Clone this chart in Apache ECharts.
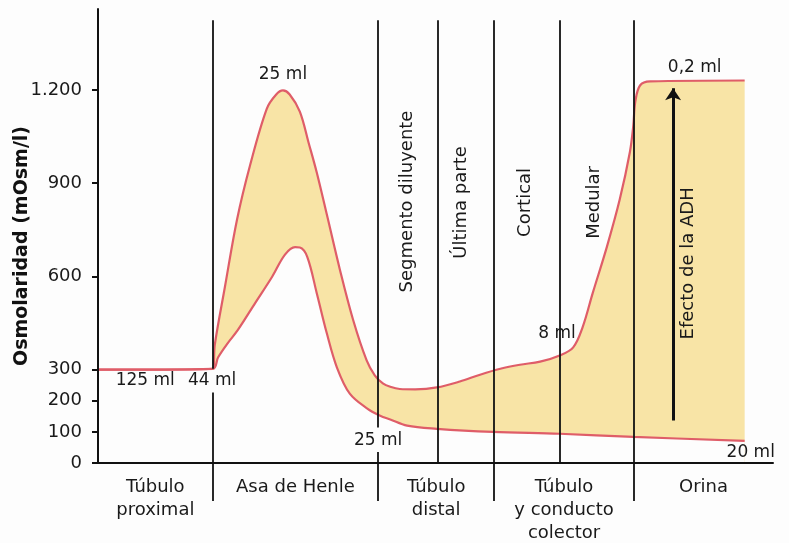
<!DOCTYPE html>
<html><head><meta charset="utf-8">
<script src="https://cdn.jsdelivr.net/npm/echarts@6/dist/echarts.min.js"></script>
<style>html,body{margin:0;padding:0;background:#fdfdfd}#c{width:789px;height:543px}</style>
</head><body><div id="c"></div><script>
// Y ticks (mOsm/l)
const yTicks = [0, 100, 200, 300, 600, 900, 1200];
// Nephron regions along the x position scale (0..100)
const regionNames = ['Túbulo\nproximal', 'Asa de Henle', 'Túbulo\ndistal', 'Túbulo\ny conducto\ncolector', 'Orina'];
const regionBounds = [0, 17, 41.5, 58.7, 79.4, 100];
const subBounds = [50.4, 68.4];
// Osmolarity curves [position, mOsm/l]
const upperCurve = [[0,300],[17,303],[17.3,380],[18.8,566],[20.6,783],[22.5,955],[25,1139],[26.4,1185],[27.4,1198],[28.4,1185],[29.9,1130],[31.2,1030],[32.4,935],[34,790],[35.8,625],[37.8,460],[39.8,330],[41,282],[42.2,256],[43.3,245],[44.7,238],[47,237],[50.2,243],[53.6,262],[56.6,284],[59.6,303],[62.5,316],[65.5,326],[68.4,346],[70.4,372],[71.8,437],[73.3,547],[75.4,696],[77.3,848],[78.8,1000],[79.3,1084],[79.6,1162],[80.3,1214],[81.8,1227],[95.8,1230]];
const lowerCurve = [[0,300],[17,303],[17.8,340],[19.2,385],[20.7,427],[23.3,515],[25.8,599],[27.7,670],[29.2,694],[29.9,693],[31,663],[32.4,547],[33.9,417],[35.4,307],[37.3,223],[39.9,175],[41.8,152],[43.3,140],[45.8,120],[50.2,110],[58.5,100],[68.4,94],[79.3,84],[95.8,71]];
// Volume annotations
const volumeLabels = [
  {name:'125 ml', x:7, y:266},
  {name:'44 ml', x:16.9, y:266},
  {name:'25 ml', x:27.4, y:1250},
  {name:'25 ml', x:41.5, y:73},
  {name:'8 ml', x:68.0, y:417},
  {name:'0,2 ml', x:88.4, y:1272},
  {name:'20 ml', x:96.7, y:34}
];
// Vertical segment annotations
const segmentLabels = [
  {name:'Segmento diluyente', x:45.8, y:841},
  {name:'Última parte', x:53.9, y:838},
  {name:'Cortical', x:63.3, y:838},
  {name:'Medular', x:73.6, y:838},
  {name:'Efecto de la ADH', x:87.4, y:642}
];
const adhArrow = {x:85.2, from:137, to:1205};
const dividerTop = 1424;
const dividerGaps = {17:[227,303], 41.5:[35,114]};

const FONT = 'DejaVu Sans';
const LINE = '#df5d68';
const FILL = '#f8e4a6';
const BG = '#fdfdfd';
const TXT = '#1a1a1a';

const centers = regionNames.map((_, i) => (regionBounds[i] + regionBounds[i+1]) / 2);
const dividers = regionBounds.slice(1, -1).concat(subBounds);
const dividerData = [];
dividers.forEach(x => {
  const g = dividerGaps[x];
  if (g) {
    dividerData.push([{coord:[x, dividerTop]}, {coord:[x, g[1]]}]);
    dividerData.push([{coord:[x, g[0]]}, {coord:[x, 0]}]);
  } else {
    dividerData.push([{coord:[x, dividerTop]}, {coord:[x, 0]}]);
  }
});

const textLabel = {color: TXT, fontFamily: FONT, textBorderWidth: 0, textBorderColor: 'transparent', textShadowBlur: 0, opacity: 1};

const chart = echarts.init(document.getElementById('c'));
chart.setOption({
  backgroundColor: BG,
  animation: false,
  grid: {left: 98, right: 16, top: 9, bottom: 80, outerBoundsMode: 'none', containLabel: false},
  xAxis: {
    type: 'value', min: 0, max: 100, z: 4,
    splitLine: {show: false},
    axisLine: {lineStyle: {color: '#111', width: 2}},
    axisTick: {customValues: regionBounds.slice(1, -1), length: 38, lineStyle: {color: '#111', width: 1.8}},
    axisLabel: {
      customValues: centers,
      formatter: v => regionNames[centers.findIndex(c => Math.abs(c - v) < 1e-6)] || '',
      color: TXT, fontFamily: FONT, fontSize: 18, lineHeight: 23, margin: 13
    }
  },
  yAxis: {
    type: 'value', min: 0, max: 1460, z: 4,
    splitLine: {show: false},
    name: 'Osmolaridad (mOsm/l)', nameLocation: 'middle', nameGap: 66, nameRotate: 90,
    nameMoveOverlap: false,
    nameTextStyle: {fontFamily: FONT, fontWeight: 'bold', fontSize: 19, color: '#111', padding: [0, 20, 0, 0]},
    axisLine: {show: true, lineStyle: {color: '#111', width: 2}},
    axisTick: {show: true, customValues: yTicks, length: 6, lineStyle: {color: '#111', width: 2}},
    axisLabel: {
      customValues: yTicks,
      formatter: v => String(v).replace(/\B(?=(\d{3})+(?!\d))/g, '.'),
      color: TXT, fontFamily: FONT, fontSize: 18, margin: 16
    }
  },
  series: [
    {
      type: 'line', name: 'upper', data: upperCurve, smooth: 0.35,
      symbol: 'none', z: 2,
      lineStyle: {color: LINE, width: 2.2},
      areaStyle: {color: FILL, opacity: 1},
      markLine: {
        silent: true, symbol: ['none', 'none'], z: 5,
        label: {show: false}, emphasis: {disabled: true},
        lineStyle: {color: '#111', width: 1.8, type: 'solid'},
        data: dividerData
      }
    },
    {
      type: 'line', name: 'lower', data: lowerCurve, smooth: 0.35,
      symbol: 'none', z: 2,
      lineStyle: {color: LINE, width: 2.2},
      areaStyle: {color: BG, opacity: 1}
    },
    {
      type: 'scatter', z: 6, symbolSize: 0, silent: true,
      itemStyle: {opacity: 0},
      data: volumeLabels.map(d => ({name: d.name, value: [d.x, d.y]})),
      label: Object.assign({show: true, position: 'inside', formatter: p => p.name, fontSize: 17}, textLabel),
      emphasis: {disabled: true},
      markLine: {
        silent: true, symbol: ['none', 'arrow'], symbolSize: 12, z: 6,
        label: {show: false}, emphasis: {disabled: true},
        lineStyle: {color: '#111', width: 3, type: 'solid', opacity: 1},
        data: [[{coord: [adhArrow.x, adhArrow.from]}, {coord: [adhArrow.x, adhArrow.to]}]]
      }
    },
    {
      type: 'scatter', z: 6, symbolSize: 0, silent: true,
      itemStyle: {opacity: 0},
      data: segmentLabels.map(d => ({name: d.name, value: [d.x, d.y]})),
      label: Object.assign({show: true, position: 'inside', rotate: 90, formatter: p => p.name, fontSize: 18}, textLabel),
      emphasis: {disabled: true}
    }
  ]
});
</script></body></html>
